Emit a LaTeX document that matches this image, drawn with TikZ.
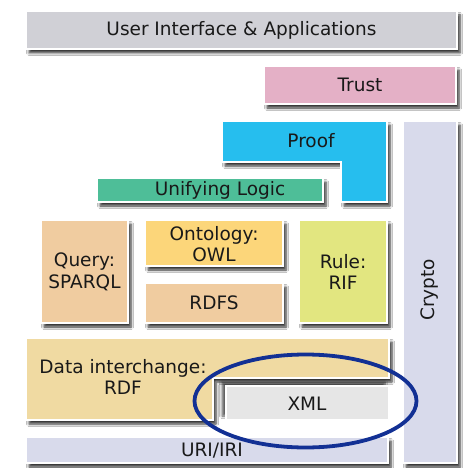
\documentclass[tikz,border=0pt]{standalone}
\usepackage{fontspec}
\setmainfont{DejaVu Sans}
\usetikzlibrary{shadows.blur}
\definecolor{cUI}{RGB}{208,208,214}
\definecolor{cTrust}{RGB}{228,176,198}
\definecolor{cProof}{RGB}{38,190,238}
\definecolor{cCrypto}{RGB}{216,218,235}
\definecolor{cLogic}{RGB}{78,190,152}
\definecolor{cTan}{RGB}{240,204,160}
\definecolor{cOnto}{RGB}{252,214,122}
\definecolor{cRule}{RGB}{226,230,128}
\definecolor{cData}{RGB}{240,218,162}
\definecolor{cXML}{RGB}{230,230,230}
\definecolor{cRing}{RGB}{18,48,148}
\definecolor{cText}{RGB}{25,25,25}
\tikzset{
  layer/.style={draw=white, line width=1.6pt,
    blur shadow={shadow xshift=3pt, shadow yshift=-4pt, shadow blur radius=2.5pt, shadow blur steps=6, shadow opacity=80}},
  innerlayer/.style={draw=white, line width=1.6pt,
    blur shadow={shadow xshift=-4pt, shadow yshift=4pt, shadow blur radius=2.5pt, shadow blur steps=6, shadow opacity=65}},
  lbl/.style={font=\fontsize{18.5}{21.5}\selectfont, text=cText, align=center, inner sep=0pt},
  ring/.style={draw=cRing, line width=3.8pt}
}
\begin{document}
\begin{tikzpicture}[x=1pt,y=-1pt]
\useasboundingbox[fill=white] (0,0) rectangle (465,468);
% User interface
\path[layer, fill=cUI] (26,11) rectangle (457,49);
\node[lbl] (ui) at (241.5,30) {User Interface \& Applications};
% Trust
\path[layer, fill=cTrust] (264,66) rectangle (456,104);
\node[lbl] (trust) at (360,85) {Trust};
% Crypto
\path[layer, fill=cCrypto] (403,121) rectangle (457,463);
\node[lbl, rotate=90] (crypto) at (430,290) {Crypto};
% Proof (L-shape)
\path[layer, fill=cProof] (222,121) -- (387,121) -- (387,202) -- (341,202) -- (341,162) -- (222,162) -- cycle;
\node[lbl] (proof) at (311,141) {Proof};
% Unifying logic
\path[layer, fill=cLogic] (97,178) rectangle (323,202);
\node[lbl] (logic) at (220,190) {Unifying Logic};
% Query
\path[layer, fill=cTan] (41,220) rectangle (128,323);
\node[lbl] (query) at (84.5,272) {Query:\\SPARQL};
% Ontology
\path[layer, fill=cOnto] (145,220) rectangle (283,266);
\node[lbl] (onto) at (214,244) {Ontology:\\OWL};
% RDFS
\path[layer, fill=cTan] (145,283) rectangle (283,323);
\node[lbl] (rdfs) at (214,303) {RDFS};
% Rule
\path[layer, fill=cRule] (299,220) rectangle (387,323);
\node[lbl] (rule) at (343,272) {Rule:\\RIF};
% Data interchange (L-shape)
\path[layer, fill=cData] (26,338) -- (389,338) -- (389,378) -- (213,378) -- (213,420) -- (26,420) -- cycle;
\node[lbl] (rdf) at (123,377) {Data interchange:\\RDF};
% XML
\path[innerlayer, fill=cXML] (226,386) rectangle (389,420);
\node[lbl] (xml) at (307,404) {XML};
% URI/IRI
\path[layer, fill=cCrypto] (26,437) rectangle (388,463);
\node[lbl] (uri) at (212,451) {URI/IRI};
% highlight ring
\draw[ring] (305.5,401) ellipse [x radius=111, y radius=46.5];
\end{tikzpicture}
\end{document}
